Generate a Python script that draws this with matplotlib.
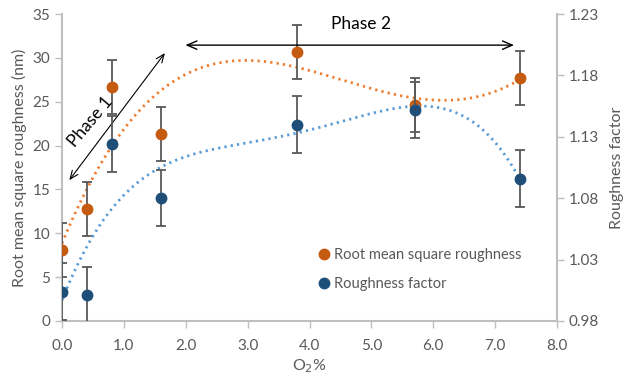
import numpy as np
import matplotlib.pyplot as plt
from matplotlib.lines import Line2D

plt.rcParams['font.family'] = ['Lato', 'DejaVu Sans']

o2 = [0.0, 0.4, 0.8, 1.6, 3.8, 5.7, 7.4]           # O2 %
rms = [8.1, 12.8, 26.7, 21.3, 30.7, 24.6, 27.7]     # nm
rms_err = [3.1, 3.1, 3.1, 3.1, 3.1, 3.1, 3.1]
rf = [1.004, 1.001, 1.124, 1.080, 1.140, 1.152, 1.096]
rf_err = [0.023, 0.023, 0.023, 0.023, 0.023, 0.023, 0.023]

orange = '#C55A11'
orange_tr = '#ED7D31'
blue = '#1F4E79'
blue_tr = '#5B9BD5'
grey = '#595959'
spine_c = '#BFBFBF'

fig = plt.figure(figsize=(6.25, 3.74), dpi=100)
ax = fig.add_axes([62/625, 1-321/374, 495/625, 307/374])
ax2 = ax.twinx()

# polynomial trendlines (like excel, order 4)
xs = np.linspace(min(o2), max(o2), 200)
p1 = np.polyfit(o2, rms, 4)
p2 = np.polyfit(o2, rf, 4)
ax.plot(xs, np.polyval(p1, xs), color=orange_tr, lw=2, ls=(0, (0.8, 1.5)), zorder=2)
ax2.plot(xs, np.polyval(p2, xs), color=blue_tr, lw=2, ls=(0, (0.8, 1.5)), zorder=2)

ax.errorbar(o2, rms, yerr=rms_err, fmt='o', color=orange, ms=7.5, ecolor=grey,
            elinewidth=1.3, capsize=3.5, capthick=1.3, zorder=3)
ax2.errorbar(o2, rf, yerr=rf_err, fmt='o', color=blue, ms=7.5, ecolor=grey,
             elinewidth=1.3, capsize=3.5, capthick=1.3, zorder=3)

ax.set_xlim(0, 8)
ax.set_ylim(0, 35)
ax2.set_ylim(0.98, 1.23)
ax.set_xticks(np.arange(0, 8.1, 1))
ax.set_xticklabels(['%.1f' % v for v in np.arange(0, 8.1, 1)])
ax.set_yticks(range(0, 36, 5))
ax2.set_yticks([0.98, 1.03, 1.08, 1.13, 1.18, 1.23])
ax2.set_yticklabels(['0.98', '1.03', '1.08', '1.13', '1.18', '1.23'])

for a in (ax, ax2):
    for s in a.spines.values():
        s.set_color(spine_c)
        s.set_linewidth(1.5)
    a.spines['top'].set_visible(False)
    a.tick_params(colors=spine_c, labelcolor=grey, labelsize=11, length=5, width=1)
ax.tick_params(axis='x', pad=8)
ax.spines['right'].set_visible(False)
ax2.spines['left'].set_visible(False)
ax2.spines['bottom'].set_visible(False)

ax.set_xlabel('O$_2$%', color=grey, fontsize=11.5, labelpad=3)
ax.set_ylabel('Root mean square roughness (nm)', color=grey, fontsize=11.5, labelpad=4)
ax2.set_ylabel('Roughness factor', color=grey, fontsize=11.5, labelpad=8)

# phase arrows
ax.annotate('', xy=(0.09, 15.8), xytext=(1.69, 30.8),
            arrowprops=dict(arrowstyle='<->,head_length=0.6,head_width=0.25', color='black', lw=0.8))
ax.text(0.46, 22.7, 'Phase 1', rotation=50, fontsize=12.5, ha='center', va='center')
ax.annotate('', xy=(1.95, 31.45), xytext=(7.35, 31.45),
            arrowprops=dict(arrowstyle='<->,head_length=0.7,head_width=0.3', color='black', lw=1))
ax.text(4.84, 33.9, 'Phase 2', fontsize=12.5, ha='center', va='center')

handles = [Line2D([], [], ls='none', marker='o', color=orange, ms=7.5),
           Line2D([], [], ls='none', marker='o', color=blue, ms=7.5)]
fig.legend(handles, ['Root mean square roughness', 'Roughness factor'],
           loc='upper left', bbox_to_anchor=(302/625, 1-235/374), frameon=False,
           fontsize=10.5, labelcolor=grey, handletextpad=0.1, labelspacing=1.0,
           handlelength=1.2)

fig.savefig('out.png', dpi=100)
